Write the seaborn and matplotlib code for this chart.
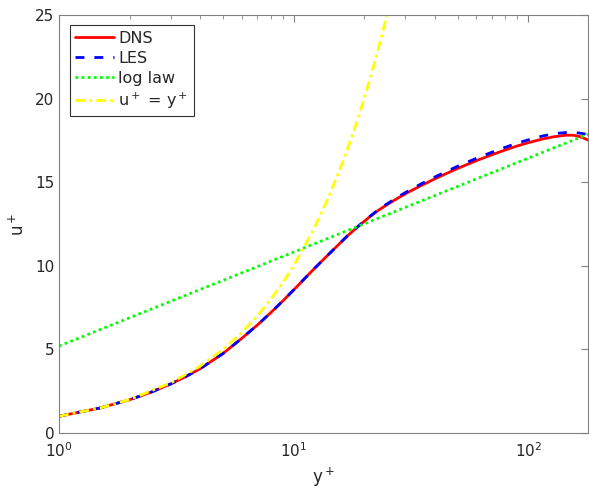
import matplotlib
matplotlib.use("Agg")
import matplotlib.pyplot as plt
import seaborn as sns
import pandas as pd
import numpy as np
from matplotlib.ticker import LogLocator, NullFormatter, FixedLocator

# ---- data ----
dns_yplus = [1, 1.5, 2, 2.5, 3, 3.5, 4, 5, 6, 7, 8, 9, 10, 11, 12, 13.5, 15, 17, 19, 21, 23, 25, 28, 31, 35,
             40, 45, 50, 60, 70, 80, 90, 100, 115, 130, 145, 155, 165, 172, 180]
dns_uplus = [1.0, 1.5, 1.99, 2.47, 2.94, 3.4, 3.85, 4.75, 5.65, 6.45, 7.2, 7.9, 8.55, 9.15, 9.7, 10.42, 11.05,
             11.8, 12.4, 12.9, 13.32, 13.65, 14.07, 14.42, 14.8, 15.2, 15.53, 15.82, 16.28, 16.64, 16.93,
             17.17, 17.36, 17.58, 17.73, 17.81, 17.81, 17.74, 17.65, 17.52]

les_yplus = dns_yplus
les_uplus = [1.0, 1.5, 1.99, 2.47, 2.94, 3.4, 3.85, 4.75, 5.65, 6.45, 7.2, 7.9, 8.55, 9.15, 9.7, 10.42, 11.05,
             11.8, 12.4, 12.92, 13.36, 13.7, 14.14, 14.5, 14.9, 15.31, 15.65, 15.95, 16.42, 16.79, 17.09,
             17.34, 17.53, 17.76, 17.91, 17.97, 17.98, 17.94, 17.9, 17.84]

loglaw_yplus = [1, 180]
loglaw_uplus = [5.2, 17.87]

visc_yplus = [1, 1.5, 2, 3, 4, 5, 6, 7, 8, 9, 10, 12, 14, 16, 18, 20, 22, 24, 26]
visc_uplus = [1, 1.5, 2, 3, 4, 5, 6, 7, 8, 9, 10, 12, 14, 16, 18, 20, 22, 24, 26]

series_names = ["DNS", "LES", "log law", "u$^+$ = y$^+$"]
x_ticks = [1, 10, 100]
x_ticklabels = ["10$^0$", "10$^1$", "10$^2$"]
y_ticks = [0, 5, 10, 15, 20, 25]

sns.set_style("white")
plt.rcParams['font.family'] = ['DejaVu Sans']
plt.rcParams['mathtext.default'] = 'regular'

fig = plt.figure(figsize=(5.89, 4.95), dpi=100)
ax = fig.add_axes([59/589, 1-433/495, (588-59)/589, (433-15)/495])

df_dns = pd.DataFrame({"y": dns_yplus, "u": dns_uplus})
df_les = pd.DataFrame({"y": les_yplus, "u": les_uplus})
df_log = pd.DataFrame({"y": loglaw_yplus, "u": loglaw_uplus})
df_vis = pd.DataFrame({"y": visc_yplus, "u": visc_uplus})

lw = 2.0
sns.lineplot(data=df_dns, x="y", y="u", ax=ax, color=(1, 0, 0), lw=lw, label=series_names[0], sort=False)
sns.lineplot(data=df_les, x="y", y="u", ax=ax, color=(0, 0, 1), lw=lw, label=series_names[1], sort=False,
             linestyle=(0, (3.2, 3.6)))
sns.lineplot(data=df_log, x="y", y="u", ax=ax, color=(0, 1, 0), lw=lw, label=series_names[2], sort=False,
             linestyle=(0, (1, 1.2)))
sns.lineplot(data=df_vis, x="y", y="u", ax=ax, color=(1, 1, 0), lw=lw, label=series_names[3], sort=False,
             linestyle=(0, (3.5, 1.5, 1, 1.5)))

ax.set_xscale("log")
ax.set_xlim(1, 180)
ax.set_ylim(0, 25)

tc = "#262626"
ax.xaxis.set_major_locator(FixedLocator(x_ticks))
ax.set_xticklabels(x_ticklabels)
ax.xaxis.set_minor_locator(LogLocator(base=10, subs=np.arange(2, 10)))
ax.xaxis.set_minor_formatter(NullFormatter())
ax.set_yticks(y_ticks)
ax.tick_params(axis="both", which="both", direction="in", top=True, right=True,
               colors="#808080", labelcolor=tc, labelsize=11)
ax.tick_params(axis="both", which="major", length=5, width=0.8)
ax.tick_params(axis="x", which="minor", length=3, width=0.6)
ax.tick_params(axis="x", which="major", pad=6)
for s in ax.spines.values():
    s.set_color("#808080")
    s.set_linewidth(0.8)
    s.set_visible(True)

ax.set_xlabel("y$^+$", fontsize=12, color=tc, labelpad=4)
ax.set_ylabel("u$^+$", fontsize=12, color=tc, labelpad=5)

leg = ax.legend(loc="upper left", bbox_to_anchor=(0.02, 0.975), fontsize=11.5, handlelength=2.4,
                frameon=True, fancybox=False, borderpad=0.35, labelspacing=0.3,
                handletextpad=0.3, borderaxespad=0)
leg.get_frame().set_edgecolor("black")
leg.get_frame().set_linewidth(0.8)
for t in leg.get_texts():
    t.set_color(tc)

fig.savefig("out.png", dpi=100)
